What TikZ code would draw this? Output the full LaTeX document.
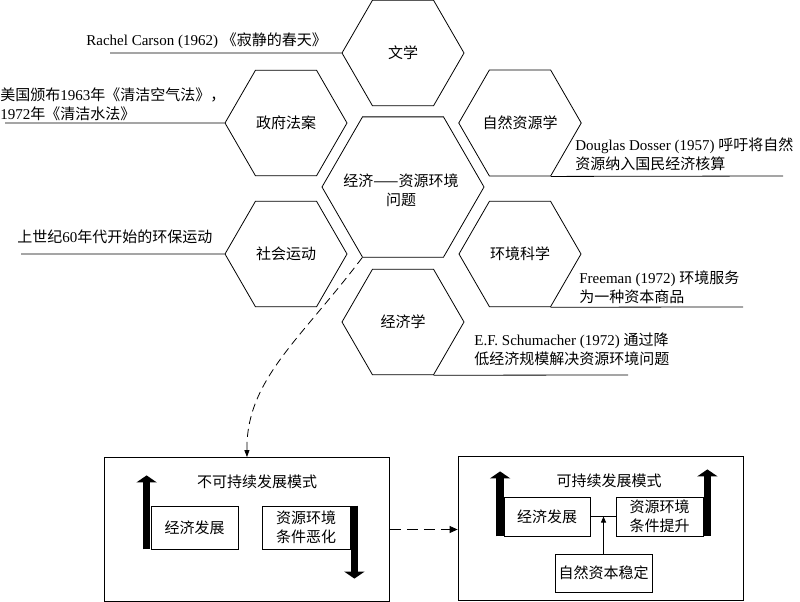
\documentclass[tikz,border=0pt]{standalone}
\usepackage{fontspec}
\setmainfont{Liberation Serif}
\newfontfamily\zhfont{Noto Sans CJK SC}
\newcommand{\zh}[1]{{\zhfont #1}}
\usetikzlibrary{shapes.geometric,arrows.meta}

\begin{document}
\begin{tikzpicture}[x=1pt, y=-1pt, line width=0.8pt, font=\fontsize{15}{19}\selectfont,
  hex/.style = {draw, regular polygon, regular polygon sides=6, minimum size=122pt, inner sep=0pt, align=center},
  bighex/.style = {hex, minimum size=162pt},
  note/.style = {anchor=west, align=left, inner sep=0pt},
  box/.style = {draw, align=center, inner sep=0pt},
  frame/.style = {draw, minimum width=285pt, minimum height=144pt},
  bigup/.style = {line width=7.5pt, -{Triangle[width=20pt,length=7pt]}},
  dashy/.style = {dash pattern=on 11pt off 6pt, -{Triangle[width=7pt,length=8pt]}}]
\useasboundingbox (0,0) rectangle (800,602);

% hexagons
\node[bighex] (c) at (403,187) {};
\node[align=center, inner sep=0pt] (ct) at (401,190) {\zh{经济——资源环境}\\\zh{问题}};
\node[hex] (wenxue) at (403,53) {\zh{文学}};
\node[hex] (fa) at (286,123) {\zh{政府法案}};
\node[hex] (ziran) at (520,123) {\zh{自然资源学}};
\node[hex] (shehui) at (286,254) {\zh{社会运动}};
\node[hex] (huanjing) at (520,254) {\zh{环境科学}};
\node[hex] (jjx) at (403,322) {\zh{经济学}};

% notes
\node[note] (n1) at (86,41) {Rachel Carson (1962) \zh{《寂静的春天》}};
\node[note] (n2) at (0,104) {\zh{美国颁布}1963\zh{年《清洁空气法》，}\\1972\zh{年《清洁水法》}};
\node[note] (n3) at (17,237) {\zh{上世纪}60\zh{年代开始的环保运动}};
\node[note] (n4) at (575,154) {Douglas Dosser (1957) \zh{呼吁将自然}\\\zh{资源纳入国民经济核算}};
\node[note] (n5) at (579,287) {Freeman (1972) \zh{环境服务}\\\zh{为一种资本商品}};
\node[note] (n6) at (474,349) {E.F. Schumacher (1972) \zh{通过降}\\\zh{低经济规模解决资源环境问题}};
\coordinate (e1) at (110,53);
\coordinate (e2) at (5,123);
\coordinate (e3) at (21,254);
\coordinate (e4) at (783,176);
\coordinate (e5) at (743,307);
\coordinate (e6) at (628,375);
\draw (wenxue.west) -- (e1);
\draw (fa.west) -- (e2);
\draw (shehui.west) -- (e3);
\draw (ziran.300) -- (e4);
\draw (huanjing.300) -- (e5);
\draw (jjx.300) -- (e6);

% unsustainable
\node[frame] (lbox) at (247,529.5) {};
\node (lt) at (257,482) {\zh{不可持续发展模式}};
\node[box, minimum width=87pt, minimum height=43pt] (le) at (194.5,527.5) {\zh{经济发展}};
\node[box, minimum width=88pt, minimum height=43pt] (lr) at (306,527.5) {\zh{资源环境}\\\zh{条件恶化}};
\draw[bigup] ([xshift=-4pt]le.south west) -- ++(0,-74);
\draw[bigup] ([xshift=4pt]lr.north east) -- ++(0,73);

% sustainable
\node[frame] (rbox) at (600.5,528.5) {};
\node (rt) at (609,481) {\zh{可持续发展模式}};
\node[box, minimum width=86pt, minimum height=39pt] (re) at (547,516.5) {\zh{经济发展}};
\node[box, minimum width=87pt, minimum height=39pt] (rr) at (659.5,516.5) {\zh{资源环境}\\\zh{条件提升}};
\node[box, minimum width=97pt, minimum height=38pt] (rk) at (603.5,573) {\zh{自然资本稳定}};
\draw (re.east) -- (rr.west);
\draw[-{Triangle[width=5pt,length=6pt]}] (rk.north) -- (rk.north |- re.east);
\draw[bigup] ([xshift=-3.5pt]re.south west) -- ++(0,-65);
\draw[bigup] ([xshift=4pt]rr.south east) -- ++(0,-67);

\draw[dashy] (lbox.east) -- (lbox.east -| rbox.west);
\draw[dash pattern=on 8pt off 5pt, -{Triangle[width=5pt,length=7pt]}] (c.240) .. controls (300,340) and (246,380) .. (lbox.north);
\end{tikzpicture}
\end{document}
